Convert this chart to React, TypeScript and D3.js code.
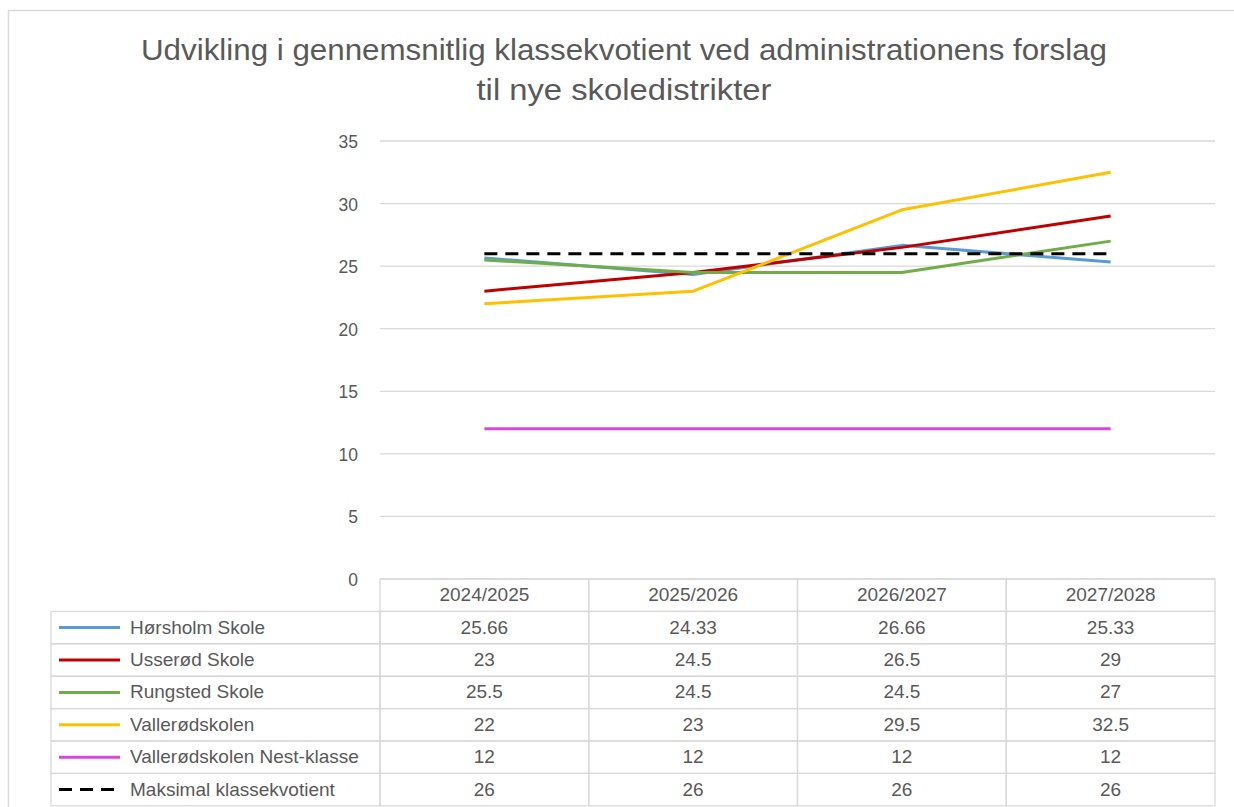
import React from "react";
import * as d3 from "d3";

const categories = ["2024/2025", "2025/2026", "2026/2027", "2027/2028"];
const horsholm = [25.66, 24.33, 26.66, 25.33];
const usserod = [23, 24.5, 26.5, 29];
const rungsted = [25.5, 24.5, 24.5, 27];
const vallerod = [22, 23, 29.5, 32.5];
const nest = [12, 12, 12, 12];
const maks = [26, 26, 26, 26];
const yTicks = [0, 5, 10, 15, 20, 25, 30, 35];

const seriesNames = [
  "Hørsholm Skole",
  "Usserød Skole",
  "Rungsted Skole",
  "Vallerødskolen",
  "Vallerødskolen Nest-klasse",
  "Maksimal klassekvotient",
];
const seriesColors = ["#5B9BD5", "#C00000", "#70AD47", "#FFC000", "#D946D9", "#000000"];
const seriesData = [horsholm, usserod, rungsted, vallerod, nest, maks];

const W = 1234;
const H = 807;
const plotLeft = 380;
const plotRight = 1215;
const plotTop = 141;
const plotBottom = 579;
const tableLeft = 51;
const rowH = 32.4;
const font = "'Liberation Sans', Arial, sans-serif";
const textColor = "#595959";
const tableFont = 19;

export default function App() {
  const x = d3.scaleBand<string>().domain(categories).range([plotLeft, plotRight]);
  const y = d3.scaleLinear().domain([0, 35]).range([plotBottom, plotTop]);
  const line = d3
    .line<number>()
    .x((_, i) => (x(categories[i]) as number) + x.bandwidth() / 2)
    .y((d) => y(d));

  const headerTop = plotBottom;
  const bodyTop = headerTop + rowH;
  const grid = "#D9D9D9";
  const baseOff = rowH / 2 + 6;

  return (
    <svg
      width={W}
      height={H}
      style={{ position: "absolute", left: 0, top: 0, background: "#fff" }}
      fontFamily={font}
    >
      <rect x={8.5} y={10.5} width={W} height={H} fill="#fff" stroke={grid} strokeWidth={1.5} />
      <text x={624} y={60} textAnchor="middle" fontSize={29} fill={textColor} textLength={966} lengthAdjust="spacingAndGlyphs">
        Udvikling i gennemsnitlig klassekvotient ved administrationens forslag
      </text>
      <text x={624} y={100} textAnchor="middle" fontSize={29} fill={textColor} textLength={295} lengthAdjust="spacingAndGlyphs">
        til nye skoledistrikter
      </text>

      {yTicks.map((t) => (
        <g key={t}>
          <line x1={plotLeft} x2={plotRight} y1={y(t)} y2={y(t)} stroke={grid} strokeWidth={1.3} />
          <text x={358} y={y(t) + 7} textAnchor="end" fontSize={17.5} fill={textColor}>
            {t}
          </text>
        </g>
      ))}

      {/* table header */}
      {categories.map((c) => {
        const x0 = x(c) as number;
        return (
          <g key={c}>
            <rect x={x0} y={headerTop} width={x.bandwidth()} height={rowH} fill="none" stroke={grid} strokeWidth={1.3} />
            <text x={x0 + x.bandwidth() / 2} y={headerTop + baseOff} textAnchor="middle" fontSize={tableFont} fill={textColor}>
              {c}
            </text>
          </g>
        );
      })}

      {/* table body */}
      {seriesNames.map((name, r) => {
        const ry = bodyTop + r * rowH;
        return (
          <g key={name}>
            <rect x={tableLeft} y={ry} width={plotLeft - tableLeft} height={rowH} fill="none" stroke={grid} strokeWidth={1.3} />
            <line
              x1={59}
              x2={120}
              y1={ry + rowH / 2}
              y2={ry + rowH / 2}
              stroke={seriesColors[r]}
              strokeWidth={3}
              strokeDasharray={r === 5 ? "13,8" : undefined}
            />
            <text x={130} y={ry + baseOff} fontSize={tableFont} fill={textColor}>
              {name}
            </text>
            {categories.map((c, i) => {
              const x0 = x(c) as number;
              return (
                <g key={c}>
                  <rect x={x0} y={ry} width={x.bandwidth()} height={rowH} fill="none" stroke={grid} strokeWidth={1.3} />
                  <text x={x0 + x.bandwidth() / 2} y={ry + baseOff} textAnchor="middle" fontSize={tableFont} fill={textColor}>
                    {seriesData[r][i]}
                  </text>
                </g>
              );
            })}
          </g>
        );
      })}

      {/* lines */}
      {seriesData.map((s, r) => (
        <path
          key={r}
          d={line(s) as string}
          fill="none"
          stroke={seriesColors[r]}
          strokeWidth={3}
          strokeLinejoin="round"
          strokeDasharray={r === 5 ? "13,8" : undefined}
        />
      ))}
    </svg>
  );
}
